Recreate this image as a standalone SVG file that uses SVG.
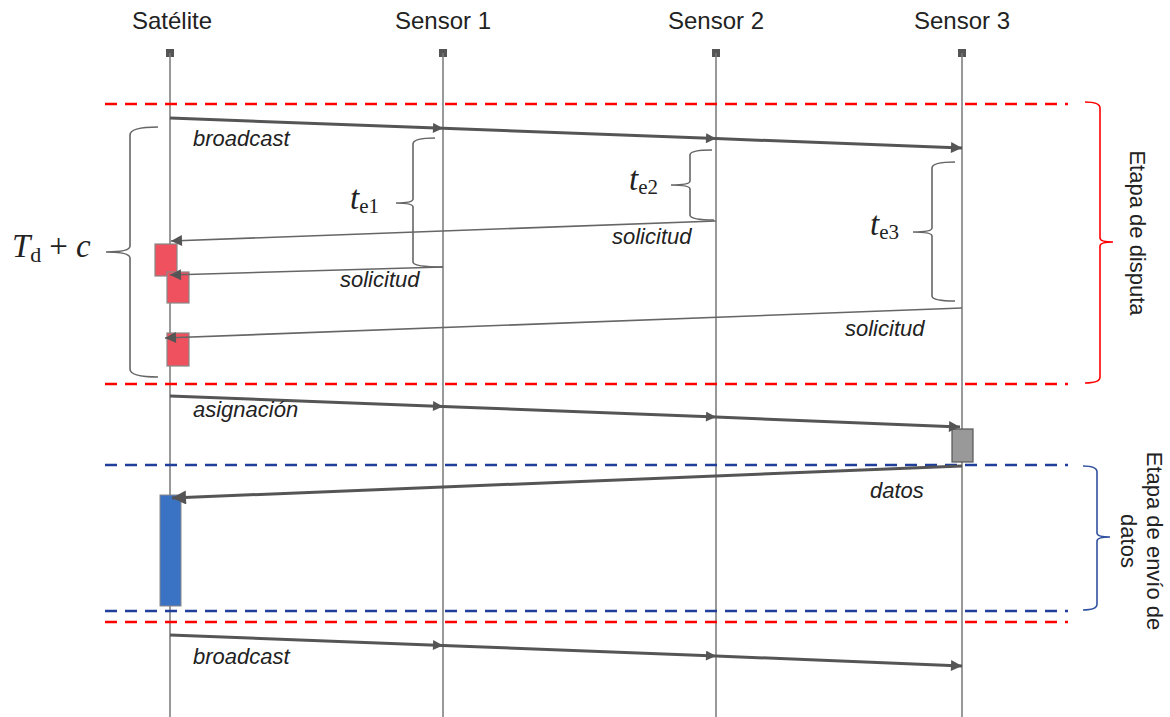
<svg xmlns="http://www.w3.org/2000/svg" width="1170" height="717" viewBox="0 0 1170 717">
<defs>
<marker id="ahs" viewBox="0 0 10 10" refX="10" refY="5" markerWidth="12" markerHeight="10" orient="auto" markerUnits="userSpaceOnUse">
<path d="M0,0 L10,5 L0,10 z" fill="#555"/>
</marker>
<marker id="ahb" viewBox="0 0 10 10" refX="10" refY="5" markerWidth="16" markerHeight="14" orient="auto" markerUnits="userSpaceOnUse">
<path d="M0,0 L10,5 L0,10 z" fill="#555"/>
</marker>
<marker id="ahm" viewBox="0 0 10 10" refX="10" refY="5" markerWidth="14" markerHeight="11" orient="auto" markerUnits="userSpaceOnUse">
<path d="M0,0 L10,5 L0,10 z" fill="#555"/>
</marker>
</defs>
<style>
.hdr{font-family:"Liberation Sans",Arial,sans-serif;font-size:24px;fill:#222;text-anchor:middle}
.lbl{font-family:"Liberation Sans",Arial,sans-serif;font-size:22px;font-style:italic;fill:#222}
.life{stroke:#777;stroke-width:1.5;fill:none}
.head{fill:#555}
.thick{stroke:#555;stroke-width:3;fill:none}
.thin{stroke:#666;stroke-width:1.6;fill:none}
.brace{stroke:#666;stroke-width:1.6;fill:none}
.red{stroke:#f00;stroke-width:2.5;stroke-dasharray:12,8;fill:none}
.blue{stroke:#1f3f9a;stroke-width:2.5;stroke-dasharray:12,8;fill:none}
.math{font-family:"Liberation Serif","Times New Roman",serif;fill:#222}
.stage{font-family:"Liberation Sans",Arial,sans-serif;font-size:22px;fill:#222;text-anchor:middle}
.rbox{fill:#f0515e;stroke:#888;stroke-width:1.2}
</style>

<g id="lifelines">
<g id="satelite"><text class="hdr" x="172" y="29">Satélite</text><rect class="head" x="166" y="49" width="8" height="8"/><line class="life" x1="170" y1="53" x2="170" y2="717"/></g>
<g id="sensor1"><text class="hdr" x="443" y="29">Sensor 1</text><rect class="head" x="439" y="49" width="8" height="8"/><line class="life" x1="443" y1="53" x2="443" y2="717"/></g>
<g id="sensor2"><text class="hdr" x="716" y="29">Sensor 2</text><rect class="head" x="712" y="49" width="8" height="8"/><line class="life" x1="716" y1="53" x2="716" y2="717"/></g>
<g id="sensor3"><text class="hdr" x="962" y="29">Sensor 3</text><rect class="head" x="958" y="49" width="8" height="8"/><line class="life" x1="962" y1="53" x2="962" y2="717"/></g>
</g>

<g id="separators">
<line class="red" x1="105" y1="104" x2="1068" y2="104"/>
<line class="red" x1="105" y1="384" x2="1068" y2="384"/>
<line class="blue" x1="105" y1="465" x2="1068" y2="465"/>
<line class="blue" x1="105" y1="611" x2="1068" y2="611"/>
<line class="red" x1="105" y1="622" x2="1068" y2="622"/>
</g>

<g id="activations">
<rect class="rbox" x="155" y="244" width="22" height="32"/>
<rect class="rbox" x="167" y="272" width="22" height="31"/>
<rect class="rbox" x="167" y="333" width="22" height="33"/>
<rect id="gray-box" x="952" y="429" width="21" height="33" fill="#999" stroke="#555" stroke-width="1.2"/>
<rect id="blue-box" x="160" y="495" width="21" height="111" fill="#3a72c4" stroke="#888" stroke-width="1"/>
</g>

<g id="connectors">
<line class="thick" x1="170" y1="118" x2="443" y2="128.3" marker-end="url(#ahs)"/>
<line class="thick" x1="443" y1="128.3" x2="716" y2="138.6" marker-end="url(#ahs)"/>
<line class="thick" x1="716" y1="138.6" x2="962" y2="148" marker-end="url(#ahm)"/>

<line class="thin" x1="716" y1="221" x2="171" y2="241" marker-end="url(#ahm)"/>
<line class="thin" x1="443" y1="267" x2="170" y2="275" marker-end="url(#ahm)"/>
<line class="thin" x1="962" y1="308" x2="165" y2="338" marker-end="url(#ahm)"/>

<line class="thick" x1="170" y1="396" x2="443" y2="406.5" marker-end="url(#ahs)"/>
<line class="thick" x1="443" y1="406.5" x2="716" y2="417" marker-end="url(#ahs)"/>
<line class="thick" x1="716" y1="417" x2="960" y2="427" marker-end="url(#ahm)"/>

<line class="thick" x1="962" y1="466" x2="172" y2="498" marker-end="url(#ahb)"/>

<line class="thick" x1="170" y1="635" x2="443" y2="645.5" marker-end="url(#ahs)"/>
<line class="thick" x1="443" y1="645.5" x2="716" y2="656" marker-end="url(#ahs)"/>
<line class="thick" x1="716" y1="656" x2="962" y2="666" marker-end="url(#ahm)"/>
</g>

<g id="labels">
<text class="lbl" x="193" y="146">broadcast</text>
<text class="lbl" x="340" y="287">solicitud</text>
<text class="lbl" x="612" y="244">solicitud</text>
<text class="lbl" x="845" y="336">solicitud</text>
<text class="lbl" x="193" y="417">asignación</text>
<text class="lbl" x="870" y="498">datos</text>
<text class="lbl" x="193" y="664">broadcast</text>
</g>

<g id="braces">
<path class="brace" d="M158,127 Q130,127 130,135 L130,246 Q130,252 106,252 Q130,252 130,258 L130,369 Q130,377 158,377"/>
<path class="brace" d="M435,138 Q413,138 413,144 L413,199 Q413,203 396,203 Q413,203 413,207 L413,262 Q413,267 443,267"/>
<path class="brace" d="M712,150 Q690,150 690,155 L690,181 Q690,185 671,185 Q690,185 690,189 L690,215 Q690,220 714,220"/>
<path class="brace" d="M955,162 Q932,162 932,168 L932,228 Q932,232 913,232 Q932,232 932,236 L932,296 Q932,301 955,301"/>
<path d="M1085,102 Q1100,102 1100,108 L1100,238 Q1100,242 1113,242 Q1100,242 1100,246 L1100,377 Q1100,383 1085,383" fill="none" stroke="#f00" stroke-width="1.6"/>
<path d="M1083,466 Q1097,466 1097,472 L1097,533 Q1097,537 1110,537 Q1097,537 1097,541 L1097,604 Q1097,610 1083,610" fill="none" stroke="#3050a0" stroke-width="1.6"/>
</g>

<g id="math">
<text class="math" x="12" y="257" font-size="33"><tspan font-style="italic">T</tspan><tspan font-size="22" dy="5">d</tspan><tspan dy="-5" dx="8">+</tspan><tspan font-style="italic" dx="8">c</tspan></text>
<text class="math" x="350" y="209" font-size="33"><tspan font-style="italic">t</tspan><tspan font-size="21" dy="4">e1</tspan></text>
<text class="math" x="629" y="190" font-size="33"><tspan font-style="italic">t</tspan><tspan font-size="21" dy="4">e2</tspan></text>
<text class="math" x="870" y="235" font-size="33"><tspan font-style="italic">t</tspan><tspan font-size="21" dy="4">e3</tspan></text>
</g>

<g id="stages">
<text class="stage" transform="translate(1130,233) rotate(90)">Etapa de disputa</text>
<text class="stage" transform="translate(1147,541) rotate(90)">Etapa de envío de</text>
<text class="stage" transform="translate(1121,541) rotate(90)">datos</text>
</g>
</svg>
